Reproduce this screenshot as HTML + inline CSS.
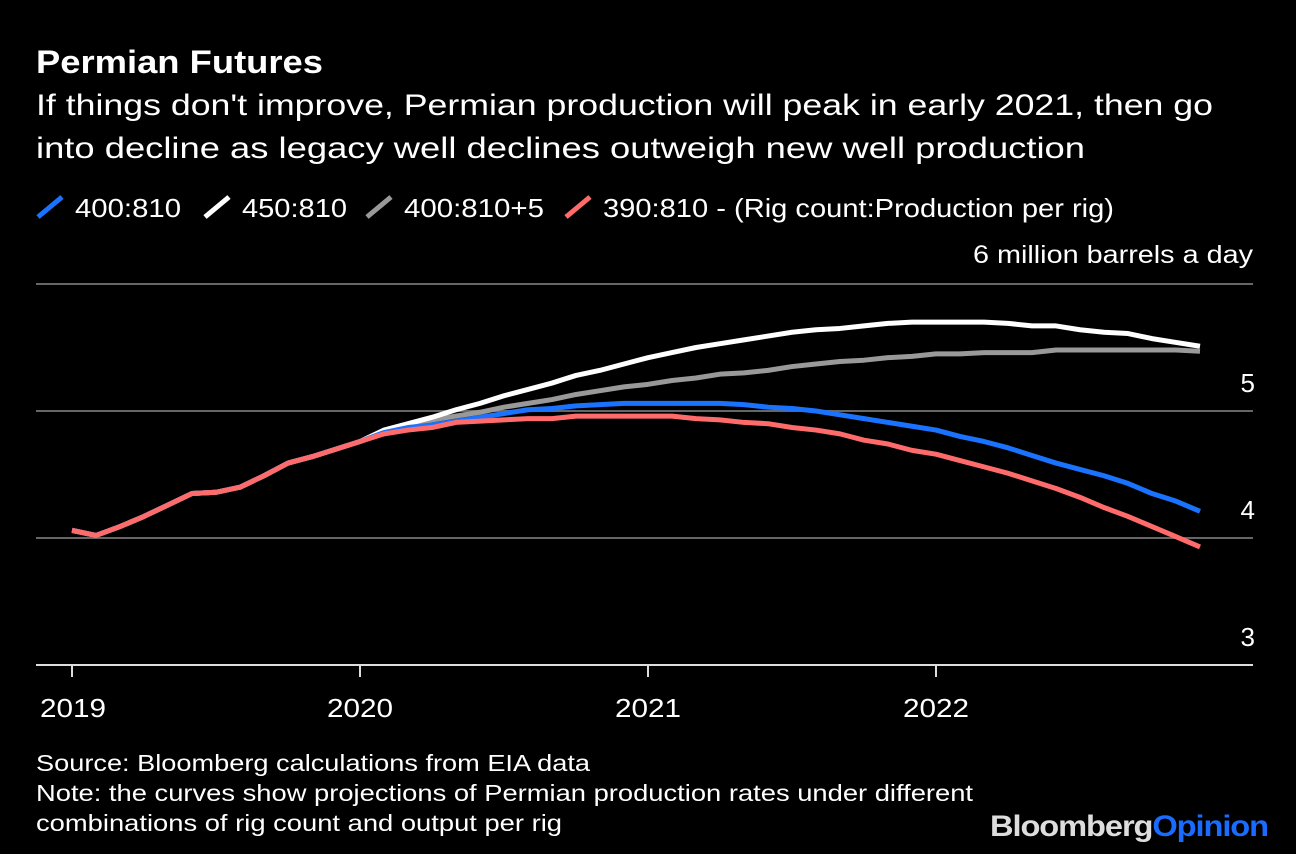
<!DOCTYPE html>
<html><head><meta charset="utf-8"><style>
body{margin:0;background:#000;width:1296px;height:854px;overflow:hidden;font-family:"Liberation Sans",Arial,sans-serif;color:#fff}
</style></head><body>
<svg width="1296" height="854" style="position:absolute;left:0;top:0">
<text x="36" y="73" font-size="32" font-weight="bold" fill="#fff" textLength="287" lengthAdjust="spacingAndGlyphs">Permian Futures</text>
<text x="36" y="115" font-size="30" fill="#fff" textLength="1177" lengthAdjust="spacingAndGlyphs">If things don't improve, Permian production will peak in early 2021, then go</text>
<text x="36" y="158" font-size="30" fill="#fff" textLength="1049" lengthAdjust="spacingAndGlyphs">into decline as legacy well declines outweigh new well production</text>
<g id="legend"></g>
<text x="973" y="263" font-size="25" fill="#fff" textLength="280" lengthAdjust="spacingAndGlyphs">6 million barrels a day</text>
<g id="grid"></g><g id="series"></g><g id="xaxis"></g>
<text x="36" y="771" font-size="23" fill="#fff" textLength="554" lengthAdjust="spacingAndGlyphs">Source: Bloomberg calculations from EIA data</text>
<text x="36" y="801" font-size="23" fill="#fff" textLength="937" lengthAdjust="spacingAndGlyphs">Note: the curves show projections of Permian production rates under different</text>
<text x="36" y="831" font-size="23" fill="#fff" textLength="526" lengthAdjust="spacingAndGlyphs">combinations of rig count and output per rig</text>
<text x="990" y="836" font-size="30" font-weight="bold" letter-spacing="-1" textLength="278" lengthAdjust="spacingAndGlyphs"><tspan fill="#ddd">Bloomberg</tspan><tspan fill="#1a6cff">Opinion</tspan></text>
</svg>
<script>
const yTicks=[3,4,5,6];
const xTickLabels=["2019","2020","2021","2022"];
const common=[4.06,4.02,4.09,4.17,4.26,4.35,4.36,4.40,4.49,4.59,4.64,4.70,4.76];
const blueVals=common.concat([4.83,4.87,4.89,4.92,4.95,4.98,5.01,5.02,5.04,5.05,5.06,5.06,5.06,5.06,5.06,5.05,5.03,5.02,5.00,4.97,4.94,4.91,4.88,4.85,4.80,4.76,4.71,4.65,4.59,4.54,4.49,4.43,4.35,4.29,4.21]);
const whiteVals=common.concat([4.85,4.90,4.95,5.01,5.06,5.12,5.17,5.22,5.28,5.32,5.37,5.42,5.46,5.50,5.53,5.56,5.59,5.62,5.64,5.65,5.67,5.69,5.70,5.70,5.70,5.70,5.69,5.67,5.67,5.64,5.62,5.61,5.57,5.54,5.51]);
const grayVals=common.concat([4.83,4.87,4.93,4.96,4.99,5.03,5.06,5.09,5.13,5.16,5.19,5.21,5.24,5.26,5.29,5.30,5.32,5.35,5.37,5.39,5.40,5.42,5.43,5.45,5.45,5.46,5.46,5.46,5.48,5.48,5.48,5.48,5.48,5.48,5.47]);
const redVals=common.concat([4.82,4.85,4.87,4.91,4.92,4.93,4.94,4.94,4.96,4.96,4.96,4.96,4.96,4.94,4.93,4.91,4.90,4.87,4.85,4.82,4.77,4.74,4.69,4.66,4.61,4.56,4.51,4.45,4.39,4.32,4.24,4.17,4.09,4.01,3.93]);
const seriesNames=["400:810","450:810","400:810+5","390:810 - (Rig count:Production per rig)"];
const colors=["#1a73ff","#ffffff","#999999","#ff6b6b"];
const NS="http://www.w3.org/2000/svg";
const y=v=>665-(v-3)*127;
const x=i=>72+i*24.0;
function mk(t,a){const e=document.createElementNS(NS,t);for(const k in a)e.setAttribute(k,a[k]);return e;}
const grid=document.getElementById('grid');
yTicks.forEach(v=>{
 const l=mk('line',{x1:36,x2:1253,y1:y(v),y2:y(v),stroke:v==3?'#ddd':'#666','stroke-width':2});
 
 
 grid.appendChild(l);
 if(v<6){const t=mk('text',{x:1255,y:y(v)-19,'font-size':26,'text-anchor':'end',fill:'#fff'});t.textContent=v;
 
 
 grid.appendChild(t);}
});
const xa=document.getElementById('xaxis');
xTickLabels.forEach((s,k)=>{
 const xx=x(k*12);
 const l=mk('line',{x1:xx,x2:xx,y1:665,y2:677,stroke:'#ddd','stroke-width':2});
 
 
 xa.appendChild(l);
 const t=mk('text',{x:xx-33+(k==0?1:0),y:717,'font-size':26,fill:'#fff',textLength:66,lengthAdjust:'spacingAndGlyphs'});t.textContent=s;
 
 
 xa.appendChild(t);
});
const sg=document.getElementById('series');
const all=[grayVals,whiteVals,blueVals,redVals];const order=[2,1,0,3];
all.forEach((vals,j)=>{
 const ci=order[j];
 const p=mk('polyline',{points:vals.map((v,i)=>x(i)+','+y(v)).join(' '),fill:'none',stroke:colors[ci],'stroke-width':5,'stroke-linejoin':'round'});
 
 
 sg.appendChild(p);
});
const lg=document.getElementById('legend');
const lx=[38,205,367,566];
const lw=[106,105,140,511];
seriesNames.forEach((n,i)=>{
 const l=mk('line',{x1:lx[i],y1:217,x2:lx[i]+24,y2:197,stroke:colors[i],'stroke-width':5});
 
 
 lg.appendChild(l);
 const t=mk('text',{x:lx[i]+37,y:217,'font-size':26,fill:'#fff',textLength:lw[i],lengthAdjust:'spacingAndGlyphs'});t.textContent=n;
 
 
 lg.appendChild(t);
});
</script>
</body></html>
